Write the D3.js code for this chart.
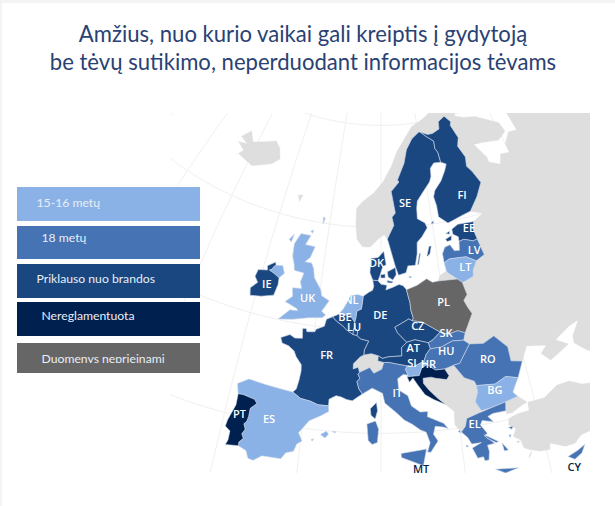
<!DOCTYPE html>
<html><head><meta charset="utf-8">
<script src="https://cdn.jsdelivr.net/npm/d3@7"></script>
<style>html,body{margin:0;padding:0;background:#fff}svg{display:block}</style>
</head><body><svg id="c" width="615" height="506"></svg>
<script>
const titleLines = ["Amžius, nuo kurio vaikai gali kreiptis į gydytoją","be tėvų sutikimo, neperduodant informacijos tėvams"];
const legendLabels = ["15-16 metų","18 metų","Priklauso nuo brandos","Nereglamentuota","Duomenys neprieinami"];
const legendColors = ["#8ab2e6","#4673b3","#1b4780","#00204f","#666666"];
const groupYoung = ["UK","NL","ES","LT","BG","SI"];
const group18 = ["LV","SK","HU","RO","IT","EL","CY"];
const groupMaturity = ["SE","FI","EE","DK","IE","BE","LU","DE","FR","CZ","AT"];
const groupNone = ["PT","HR","MT"];
const groupNoData = ["PL"];

// Country outlines, longitude / latitude
const FR=[[[2.5,51.1],[3.2,50.7],[4.2,50.3],[4.8,49.95],[5.8,49.55],[6.4,49.47],[7,49.15],[8.2,48.97],[7.6,48.1],[7.55,47.6],[7,47.4],[6.1,46.7],[6.1,46.2],[6.8,46.4],[7,45.9],[6.8,45.7],[7.1,45.3],[6.7,45],[7,44.3],[7.5,43.8],[6.9,43.5],[6.2,43.1],[5.4,43.2],[4.7,43.4],[4,43.5],[3.1,43.1],[3.1,42.45],[1.7,42.45],[0.7,42.7],[-0.7,42.85],[-1.8,43.35],[-1.4,43.7],[-1.2,44.6],[-1.1,45.5],[-1.2,46.1],[-2.1,46.8],[-2.5,47.3],[-3.4,47.7],[-4.4,47.85],[-4.75,48.35],[-3.5,48.8],[-2.7,48.55],[-1.6,48.65],[-1.8,49.6],[-1.25,49.65],[-1.1,49.35],[0.1,49.45],[0.2,49.7],[1.4,50.1],[1.6,50.8]],
 [[9.4,43],[9.55,42.2],[9.25,41.4],[8.7,41.75],[8.6,42.4]]];
const ES=[[[-1.8,43.35],[-3.5,43.45],[-5.7,43.6],[-7.9,43.75],[-9.25,43.05],[-8.85,42.1],[-8.2,42.15],[-6.6,41.95],[-6.2,41.6],[-6.9,41],[-6.9,40.2],[-7,39.7],[-7.3,39.4],[-7,38.9],[-7.3,38.4],[-7,38],[-7.45,37.55],[-7.4,37.2],[-6.4,36.9],[-6,36.2],[-5.35,36.1],[-4.4,36.7],[-2.1,36.75],[-1.6,37.4],[-0.7,37.65],[-0.4,38.4],[0.2,38.75],[-0.35,39.5],[0.8,40.8],[2.2,41.4],[3.2,41.9],[3.1,42.45],[1.7,42.45],[0.7,42.7],[-0.7,42.85]],
 [[2.4,39.6],[3.1,39.95],[3.4,39.7],[3,39.3]],[[3.85,40],[4.3,40],[4.2,39.85]],[[1.3,39],[1.6,39.1],[1.45,38.85]]];
const PT=[[[-8.85,42.1],[-8.8,41],[-9.4,39.4],[-9.5,38.75],[-8.8,38.4],[-8.8,37.5],[-9,37],[-7.4,37.2],[-7.45,37.55],[-7,38],[-7.3,38.4],[-7,38.9],[-7.3,39.4],[-7,39.7],[-6.9,40.2],[-6.9,41],[-6.2,41.6],[-6.6,41.95],[-8.2,42.15]]];
const UK=[[[-5.7,50.05],[-3.5,50.3],[-1.2,50.7],[0.9,50.9],[1.4,51.2],[0.7,51.5],[1.7,52.6],[0.4,53],[0.1,53.6],[-1.2,54.6],[-1.6,55.5],[-2.1,56],[-3.3,56],[-2.5,56.5],[-2,57.6],[-3.8,57.65],[-3.1,58.6],[-5,58.6],[-5.8,57.5],[-5.6,56.3],[-5,55.5],[-4.8,55],[-3.1,54.9],[-3.4,54],[-3,53.4],[-4.5,53.3],[-4.2,52.5],[-5.2,51.85],[-3.2,51.4],[-3,51.2],[-4.2,51.15]],
 [[-8,55.05],[-6.9,55.2],[-6.3,54.5],[-7,53.95],[-7.5,54.1],[-8,54.25],[-8.9,54.45],[-8.5,54.6],[-8.3,54.9]],
 [[-1.4,60.6],[-1,60.5],[-1.25,59.9]],[[-3.3,59],[-2.8,59.2],[-2.9,58.85]],[[-6.9,57.8],[-6.2,58.4],[-6.4,57.6]]];
const IE=[[[-7,53.95],[-6.9,53.3],[-7.2,52.2],[-9.1,51.8],[-10.8,51.6],[-11.1,52.3],[-10.2,53],[-10.9,53.5],[-10.7,54.2],[-9.2,54.4],[-9.4,54.8],[-8.2,55.35],[-8,55.05],[-8.3,54.9],[-8.5,54.6],[-8.9,54.45],[-8,54.25],[-7.5,54.1]]];
const DE=[[[7.1,53.3],[8,53.7],[8.6,53.9],[8.8,54.3],[8.6,54.9],[9.5,54.85],[10,54.5],[11,54.4],[10.8,53.95],[12,54.2],[13,54.45],[13.7,54.3],[14.2,53.9],[14.4,53.3],[14.65,52.6],[14.7,51.9],[15,51.1],[14.8,50.85],[14.3,51.05],[12.1,50.3],[12.5,49.75],[13.8,48.8],[13,48.3],[13,47.5],[11.1,47.45],[10.2,47.3],[9.6,47.55],[8.6,47.75],[7.55,47.6],[7.6,48.1],[8.2,48.97],[7,49.15],[6.4,49.47],[6.5,49.8],[6.1,50.15],[5.95,50.75],[6.1,51.2],[6.2,51.85],[6.9,52.05],[7.05,52.9]]];
const NL=[[[7.1,53.3],[6.2,53.45],[5,53.25],[4.7,52.8],[4.1,52],[3.4,51.4],[4.3,51.35],[5.1,51.45],[5.95,50.75],[6.1,51.2],[6.2,51.85],[6.9,52.05],[7.05,52.9]]];
const BE=[[[3.4,51.4],[2.5,51.1],[3.2,50.7],[4.2,50.3],[4.8,49.95],[5.8,49.55],[5.9,50.15],[6.1,50.15],[5.95,50.75],[5.1,51.45],[4.3,51.35]]];
const LU=[[[5.8,49.55],[6.4,49.47],[6.5,49.8],[6.1,50.15],[5.9,50.15]]];
const DK=[[[8.6,54.9],[9.5,54.85],[9.8,55.3],[10.3,56.2],[10.9,56.4],[10.5,57.7],[9.5,57.1],[8.2,57],[8.1,55.6]],
 [[11.1,55.7],[12.5,56.1],[12.6,55.4],[12,54.9],[11.2,55.2]],[[9.9,55.4],[10.7,55.5],[10.7,55.1],[10,55.1]],[[11,54.85],[12,54.75],[11.9,54.6],[11.1,54.65]],[[14.7,55.15],[15.15,55.15],[15,55]]];
const SE=[[[20.55,69.05],[22,68.5],[23.6,67.95],[23.5,67.2],[24,66.8],[24.15,65.8],[22.5,65.85],[21.5,65.4],[21.3,64.6],[20.8,64.1],[19,63.2],[17.6,62.4],[17.3,61.7],[17.2,60.7],[18.6,60.2],[18.9,59.7],[17.7,58.9],[16.7,58.4],[16.5,57.3],[16,56.2],[14.7,56.2],[14.3,55.55],[13,55.35],[12.5,56.2],[11.9,57.5],[11.2,58.9],[12.5,60.2],[12.2,61],[12.9,61.4],[12.2,63.5],[14,64.4],[13.7,64.6],[15.5,66.2],[16.4,67.5],[18.1,68.5],[20.1,69.05]],
 [[18.2,57],[18.8,57.9],[19.2,57.9],[18.8,57.2],[18.3,56.95]],[[16.4,56.25],[16.9,57.3],[17.1,57.3],[16.6,56.25]]];
const FI=[[[20.55,69.05],[22.4,68.7],[23.7,68.7],[25.7,69],[26,69.7],[28,70.08],[29.3,69.4],[28.9,69.05],[29.9,67.7],[29.1,66.9],[30.1,65.7],[29.7,64.8],[30.5,64.2],[31.6,62.9],[29.9,61.7],[27.8,60.5],[26,60.3],[24,60],[23,59.85],[21.4,60.6],[21.4,61.7],[21.1,62.6],[21.6,63.2],[23.3,64],[24.6,64.9],[25.3,65.5],[24.15,65.8],[24,66.8],[23.5,67.2],[23.6,67.95],[22,68.5]],
 [[19.7,60.1],[20.3,60.3],[20.2,60.05]]];
const EE=[[[23.5,59.2],[24.8,59.55],[27.9,59.45],[27.4,58.8],[27.7,57.75],[26.9,57.65],[25.3,58],[24.35,57.9],[24.4,58.35],[23.5,58.7]],
 [[22,58.35],[23.2,58.6],[23,58.15],[22.2,58.1]],[[22.2,58.9],[23,59.05],[22.9,58.75]]];
const LV=[[[24.35,57.9],[25.3,58],[26.9,57.65],[27.7,57.75],[28.2,56.1],[26.6,55.7],[25,56.3],[22,56.4],[21.05,56.1],[21,57],[21.6,57.6],[22.6,57.75],[23.2,57.1],[24.1,57.05]]];
const LT=[[[21.05,56.1],[22,56.4],[25,56.3],[26.6,55.7],[25.7,54.9],[25.5,54.3],[24,54],[23.5,53.95],[22.8,54.35],[21.4,55.1],[21.2,55.3]]];
const PL=[[[14.2,53.9],[16,54.25],[17.7,54.8],[18.6,54.4],[19.6,54.45],[22.8,54.35],[23.5,53.95],[23.9,52.7],[23.2,52.2],[23.6,51.5],[24.1,50.8],[22.55,49.08],[21.5,49.4],[20,49.2],[18.85,49.5],[17.9,49.95],[16.9,50.4],[16.3,50.65],[14.8,50.85],[15,51.1],[14.7,51.9],[14.65,52.6],[14.4,53.3]]];
const CZ=[[[12.1,50.3],[14.3,51.05],[14.8,50.85],[16.3,50.65],[16.9,50.4],[17.9,49.95],[18.85,49.5],[17.7,48.85],[16.95,48.6],[15,49],[13.8,48.8],[12.5,49.75]]];
const SK=[[[18.85,49.5],[20,49.2],[21.5,49.4],[22.55,49.08],[22.15,48.4],[20.5,48.5],[18.8,48.05],[17.15,48],[16.95,48.6],[17.7,48.85]]];
const AT=[[[13.8,48.8],[15,49],[16.95,48.6],[17.15,48],[16.5,47.5],[16.1,46.85],[14.6,46.4],[13.7,46.5],[12.4,46.7],[11.1,46.9],[10.4,46.9],[9.55,47.05],[9.6,47.55],[10.2,47.3],[11.1,47.45],[13,47.5],[13,48.3]]];
const HU=[[[17.15,48],[18.8,48.05],[20.5,48.5],[22.15,48.4],[22.9,47.95],[21.1,46.25],[20.2,46.15],[18.9,45.9],[17.6,45.9],[16.5,46.5],[16.1,46.85],[16.5,47.5]]];
const SI=[[[13.7,46.5],[14.6,46.4],[16.1,46.85],[16.5,46.5],[15.7,46.2],[15.3,45.5],[13.6,45.45],[13.75,45.6],[13.4,46.2]]];
const HR=[[[16.5,46.5],[17.6,45.9],[18.9,45.9],[19.4,45.2],[19,44.85],[17.5,45.1],[16.9,45.25],[15.8,45.2],[15.8,44.7],[16.5,44],[17.6,43.1],[18.5,42.45],[17,43.05],[15.9,43.6],[15,44.6],[14.4,45.3],[13.9,44.9],[13.6,45.45],[15.3,45.5],[15.7,46.2]]];
const IT=[[[7.5,43.8],[8.8,44.4],[10.2,43.9],[10.5,42.95],[12,42],[13,41.25],[14,40.8],[15,40.2],[15.7,39.95],[16.1,38.9],[15.7,38],[16.1,37.95],[17.1,39],[16.6,39.7],[16.9,40.45],[17.9,40.3],[18.5,40.1],[18,40.65],[16,41.45],[16.1,41.95],[15.1,41.95],[14,42.6],[13.6,43.6],[12.4,44.2],[12.3,45.3],[13.1,45.7],[13.75,45.6],[13.4,46.2],[13.7,46.5],[12.4,46.7],[11.1,46.9],[10.4,46.9],[10.1,46.25],[9,45.85],[8.4,46.4],[7,45.9],[6.8,45.7],[7.1,45.3],[6.7,45],[7,44.3]],
 [[12.45,38],[15.6,38.3],[15.1,36.7],[12.5,37.6]],[[8.2,40.9],[9.3,41.2],[9.7,40.4],[9.55,39.1],[8.9,38.9],[8.4,39.3]]];
const RO=[[[22.9,47.95],[24.9,47.75],[26.6,48.25],[28.2,46.9],[28.2,45.5],[29.7,45.2],[28.6,43.75],[27,44.15],[25.4,43.65],[22.9,43.85],[22.7,44.3],[21.4,44.8],[20.2,46.15],[21.1,46.25]]];
const BG=[[[22.9,43.85],[25.4,43.65],[27,44.15],[28.6,43.75],[27.9,43],[27.5,42.5],[28,42],[26.3,41.75],[24.5,41.5],[23,41.35],[22.4,42.3],[22.9,43.2]]];
const EL=[[[26.3,41.75],[26.1,40.9],[24.4,40.9],[23.7,40.7],[24.3,40.1],[23.4,40.3],[22.9,40.4],[22.6,40],[23.3,39.1],[22.9,38.9],[24,38],[23.1,37.95],[23.2,37.3],[23,36.5],[22.5,36.5],[22.4,36.9],[21.7,36.85],[21.2,37.9],[22.4,38.3],[21.2,38.3],[20.8,39],[20.1,39.6],[20.7,40.1],[21,40.85],[22.7,41.2],[24.5,41.5]],
 [[23.6,35.5],[26.3,35.2],[24.7,34.95]],[[22.9,39],[24.5,38.1],[24.2,38.05],[23.2,38.6]],[[26,39.25],[26.6,39.3],[26.4,39]],[[27.9,36.1],[28.2,36.45],[27.8,35.95]],[[25.9,38.5],[26.15,38.55],[26,38.25]],[[24.9,37.9],[25.5,37.1],[25,37.1]],[[19.7,39.7],[20,39.55],[19.95,39.8]],[[20.5,38.3],[20.8,38.1],[20.5,38.1]],[[26.9,37.75],[27,37.7],[26.7,37.65]]];
const CY=[[[32.3,35.05],[33.6,35.35],[34.6,35.7],[34,35],[33,34.6]]];
const IS=[[[-24,65.5],[-22.5,66.4],[-21,65.5],[-18,66.1],[-16,66.5],[-14.6,66],[-13.6,65],[-15,64.3],[-18.8,63.4],[-22.7,63.9],[-22,64.4],[-24,64.9],[-22,65.1]]];
const FO=[[[-7.3,62.2],[-6.4,62.3],[-6.8,61.6]]];
const NO=[[[11.2,58.9],[10.6,59.3],[9.5,58.9],[8,58.1],[6.6,58.1],[5.5,58.8],[5.1,60.2],[5,61.8],[6.2,62.5],[8.5,63.4],[10.5,64.5],[12.5,66],[14,67.4],[16,68.5],[18.5,69.7],[22,70.3],[25.8,71.1],[28.3,71.1],[31.1,70.4],[30.9,69.8],[29.3,69.4],[28,70.08],[26,69.7],[25.7,69],[23.7,68.7],[22.4,68.7],[20.55,69.05],[20.1,69.05],[18.1,68.5],[16.4,67.5],[15.5,66.2],[13.7,64.6],[14,64.4],[12.2,63.5],[12.9,61.4],[12.2,61],[12.5,60.2]]];
const CH=[[[6.1,46.2],[6.1,46.7],[7,47.4],[7.55,47.6],[8.6,47.75],[9.6,47.55],[9.55,47.05],[10.4,46.9],[10.1,46.25],[9,45.85],[8.4,46.4],[7,45.9],[6.8,46.4]]];
const BALKANS=[[[19,44.85],[19.4,45.2],[18.9,45.9],[20.2,46.15],[21.4,44.8],[22.7,44.3],[22.9,43.85],[22.9,43.2],[22.4,42.3],[23,41.35],[22.7,41.2],[21,40.85],[20.7,40.1],[20.1,39.6],[19.4,40.4],[19.5,41.7],[18.5,42.45],[17.6,43.1],[16.5,44],[15.8,44.7],[15.8,45.2],[16.9,45.25],[17.5,45.1]]];
const EAST=[[[30.9,69.8],[33,69.4],[36,69.1],[41,67.6],[41.3,66.6],[39,66.1],[35,66.5],[33,66.6],[34.8,65],[34.8,64.5],[37,63.9],[38,64.8],[40,64.6],[40,65.5],[42,66.4],[44,66.2],[44,68.4],[46,68.2],[48,67.7],[54,68.5],[60,69],[68,69],[68,72],[80,73],[100,76],[100,45],[60,45],[50,42],[45,42],[41.6,41.6],[41.5,42.5],[38.5,44.3],[37.3,45.3],[37.5,46],[39,47.2],[37.5,47],[35,46.2],[36.5,45.4],[35.5,45.1],[33.5,44.5],[32.5,45.4],[33.5,46],[32,46.3],[30.8,46.5],[29.7,45.2],[28.2,45.5],[28.2,46.9],[26.6,48.25],[24.9,47.75],[22.9,47.95],[22.15,48.4],[22.55,49.08],[24.1,50.8],[23.6,51.5],[23.2,52.2],[23.9,52.7],[23.5,53.95],[24,54],[25.5,54.3],[25.7,54.9],[26.6,55.7],[28.2,56.1],[27.7,57.75],[27.4,58.8],[27.9,59.45],[30,60],[27.8,60.5],[29.9,61.7],[31.6,62.9],[30.5,64.2],[29.7,64.8],[30.1,65.7],[29.1,66.9],[29.9,67.7],[28.9,69.05],[29.3,69.4]]];
const KALININGRAD=[[[19.6,54.45],[20,54.95],[21.2,55.3],[21.4,55.1],[22.8,54.35]]];
const TURKEY=[[[28,42],[29,41.25],[28,41],[26.9,40.6],[26.1,40.6],[26.3,41.75]],
 [[29.1,41.2],[31.3,41.2],[33.3,42],[35,42],[36.5,41.3],[38.5,40.95],[41.5,41.5],[50,41],[50,33],[36.2,36],[36,36.8],[34.5,36.7],[33.5,36.1],[32.3,36.1],[30.6,36.8],[30.4,36.2],[29.2,36.3],[28,36.7],[27.4,37],[27.2,37.8],[26.4,38.3],[26.9,39],[26.1,39.5],[26.3,40.1],[27.5,40.35],[29,40.4]]];

const euShapes = {FR,ES,PT,UK,IE,DE,NL,BE,LU,DK,SE,FI,EE,LV,LT,PL,CZ,SK,AT,HU,SI,HR,IT,RO,BG,EL,CY};
const otherShapes = [IS,FO,NO,CH,BALKANS,EAST,KALININGRAD,TURKEY];

const labelCodes = ["SE","FI","EE","LV","LT","IE","UK","NL","DK","BE","LU","DE","FR","CZ","SK","HU","AT","RO","PL","SI","HR","IT","ES","PT","BG","EL","MT","CY"];
const labelLon = [15,27,26.7,26.7,24.5,-8.7,-1.8,5.2,9.2,4.4,5.9,9.9,2.2,15.6,19.7,19.4,14.7,25.1,20,14.4,16.7,12.2,-4.3,-8.1,25.2,21.9,14.8,32.7];
const labelLat = [62.3,62.2,58.95,56.8,55.35,53.1,52.6,52.9,56.55,51.2,50.3,51.5,47.3,50.3,49.3,47.6,48.2,46.2,52.4,46.8,46.5,43.9,40.4,40.2,43.1,40.2,36.4,33.9];
const darkLabels = ["MT","CY"];

const groups = [groupYoung,group18,groupMaturity,groupNone,groupNoData];
const colorOf = new Map(groups.flatMap((g,i)=>g.map(c=>[c,legendColors[i]])));
const LAND="#dedede", GRAT="#f0f0f0", TITLE="#2a4173";

const svg=d3.select("#c");
svg.append("rect").attr("width",615).attr("height",506).attr("fill","#f4f4f4");
svg.append("rect").attr("x",2).attr("y",3).attr("width",613).attr("height",503).attr("fill","#fff");

const defs=svg.append("defs");
defs.append("clipPath").attr("id","mapclip").append("rect").attr("x",170).attr("y",113).attr("width",420).attr("height",360);
defs.append("clipPath").attr("id","legclip").append("rect").attr("x",17).attr("y",187).attr("width",183).attr("height",176);

const projection=d3.geoAzimuthalEqualArea().rotate([-10,-52]).scale(590).translate([381,310]).precision(.3);
const path=d3.geoPath(projection);
function feat(rings){
  const polys=rings.map(r=>{
    const ring=r.concat([r[0]]);
    const area=d3.geoArea({type:"Polygon",coordinates:[ring]});
    return [area>2*Math.PI?ring.slice().reverse():ring];
  });
  return {type:"MultiPolygon",coordinates:polys};
}
const map=svg.append("g").attr("clip-path","url(#mapclip)");
map.append("path").attr("class","graticule").datum(d3.geoGraticule().step([10,10]).extent([[-40,20],[70,80]])()).attr("d",path)
  .attr("fill","none").attr("stroke",GRAT).attr("stroke-width",1);
otherShapes.forEach(s=>map.append("path").attr("class","other").attr("d",path(feat(s))).attr("fill",LAND).attr("stroke",LAND).attr("stroke-width",.4));
Object.entries(euShapes).forEach(([k,s])=>map.append("path").attr("class","eu").attr("d",path(feat(s))).attr("fill",colorOf.get(k)).attr("stroke","#cfd9e8").attr("stroke-width",.6));

svg.append("g").selectAll("text").data(labelCodes).join("text")
  .attr("transform",(d,i)=>`translate(${projection([labelLon[i],labelLat[i]])})`)
  .attr("text-anchor","middle").attr("dy","0.36em")
  .attr("font-family","'Open Sans'").attr("font-weight",600).attr("font-size",11)
  .attr("fill",d=>darkLabels.includes(d)?"#0b1f3f":"#fff").text(d=>d);

const legendTops=[187,226,264,302,343], legendHeights=[34,33,34,34,30], legendText=[36.5,41.5,36.5,41.5,41.5], legendBase=[206.5,241.5,283,319.5,362.5];
svg.append("g").selectAll("rect").data(legendLabels).join("rect")
  .attr("x",17).attr("y",(d,i)=>legendTops[i]).attr("width",183).attr("height",(d,i)=>legendHeights[i])
  .attr("fill",(d,i)=>legendColors[i]);
svg.append("g").attr("clip-path","url(#legclip)").selectAll("text").data(legendLabels).join("text")
  .attr("x",(d,i)=>legendText[i]).attr("y",(d,i)=>legendBase[i])
  .attr("font-family","Lato").attr("font-size",12.2).attr("fill","#e8eef7").text(d=>d);

svg.append("g").selectAll("text").data(titleLines).join("text")
  .attr("x",303).attr("y",(d,i)=>[42,70][i]).attr("text-anchor","middle")
  .attr("font-family","Lato").attr("font-size",22.1).attr("fill",TITLE).text(d=>d);
</script></body></html>
